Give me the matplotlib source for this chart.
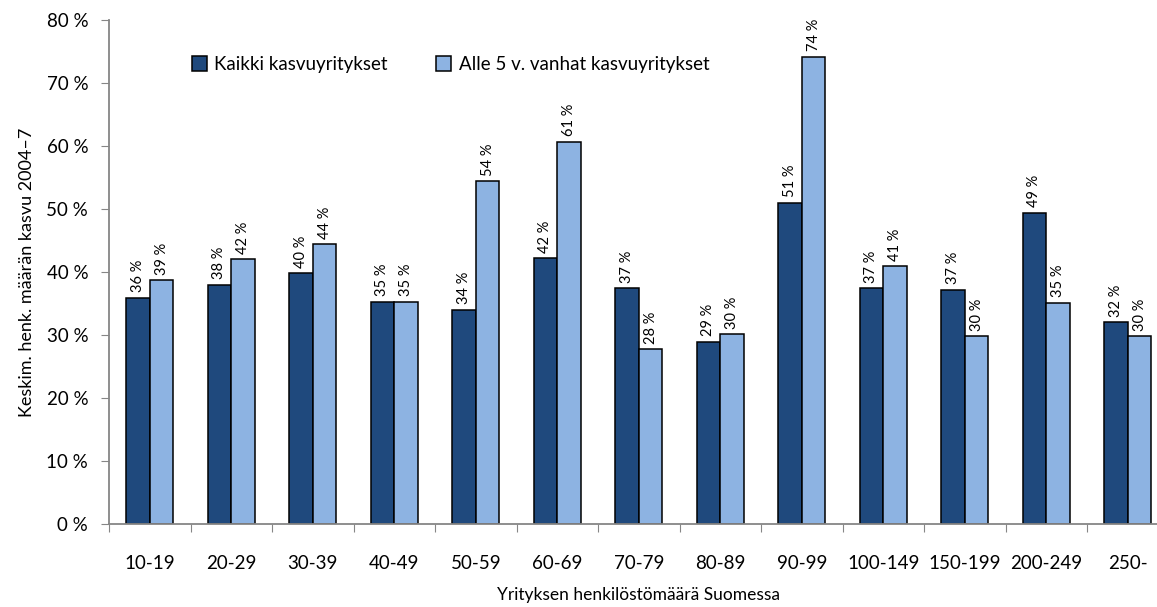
import matplotlib
matplotlib.use("Agg")
import matplotlib.pyplot as plt
import numpy as np
from matplotlib.ticker import FuncFormatter, FixedLocator

plt.rcParams['font.family'] = ['Lato', 'DejaVu Sans']

categories = ["10-19", "20-29", "30-39", "40-49", "50-59", "60-69", "70-79",
              "80-89", "90-99", "100-149", "150-199", "200-249", "250-"]
kaikki = [35.9, 38.0, 39.8, 35.3, 34.0, 42.2, 37.4, 28.9, 51.0, 37.4, 37.2, 49.4, 32.0]
alle5 = [38.7, 42.0, 44.4, 35.3, 54.4, 60.7, 27.7, 30.1, 74.2, 40.9, 29.8, 35.1, 29.8]

dark = "#1F497D"
light = "#8DB3E2"

fig = plt.figure(figsize=(11.57, 6.07), dpi=100)
# the original image cuts off the right edge of the plot area
ax = fig.add_axes([109/1157, 83/607, 13*81.5/1157, 504/607])

x = np.arange(len(categories))
w = 0.29
b1 = ax.bar(x - w/2, kaikki, w, color=dark, edgecolor="black", linewidth=1.1,
            label="Kaikki kasvuyritykset")
b2 = ax.bar(x + w/2, alle5, w, color=light, edgecolor="black", linewidth=1.1,
            label="Alle 5 v. vanhat kasvuyritykset")

for bars, vals in ((b1, kaikki), (b2, alle5)):
    for r, v in zip(bars, vals):
        ax.annotate(f"{v:.0f} %", (r.get_x() + r.get_width()/2, v),
                    xytext=(0, 4), textcoords="offset points",
                    rotation=90, ha="center", va="bottom", fontsize=10.5)

ax.set_xlim(-0.5, len(categories) - 0.5)
ax.set_ylim(0, 80)
ax.set_yticks(np.arange(0, 81, 10))
ax.yaxis.set_major_formatter(FuncFormatter(lambda v, p: f"{v:.0f} %"))
ax.tick_params(axis="y", labelsize=13.5, length=6, color="#868686", pad=9)

ax.xaxis.set_major_locator(FixedLocator(np.arange(-0.5, len(categories), 1)))
ax.xaxis.set_major_formatter(FuncFormatter(lambda v, p: ""))
ax.set_xticks(x, minor=True)
ax.set_xticklabels(categories, minor=True)
ax.tick_params(axis="x", which="minor", length=0, labelsize=13.5, pad=22)
ax.tick_params(axis="x", which="major", length=6, color="#868686")

for s in ("top", "right"):
    ax.spines[s].set_visible(False)
for s in ("left", "bottom"):
    ax.spines[s].set_color("#868686")
    ax.spines[s].set_linewidth(1.3)

ax.set_ylabel("Keskim. henk. määrän kasvu 2004–7", fontsize=13, labelpad=8)
ax.set_xlabel("Yrityksen henkilöstömäärä Suomessa", fontsize=12.5, labelpad=11)

ax.legend(loc="upper left", bbox_to_anchor=(0.062, 0.962), ncol=2, frameon=False,
          fontsize=13.5, handlelength=0.8, handleheight=0.8, handletextpad=0.4,
          columnspacing=2.6)

fig.savefig("out.png", dpi=100)
